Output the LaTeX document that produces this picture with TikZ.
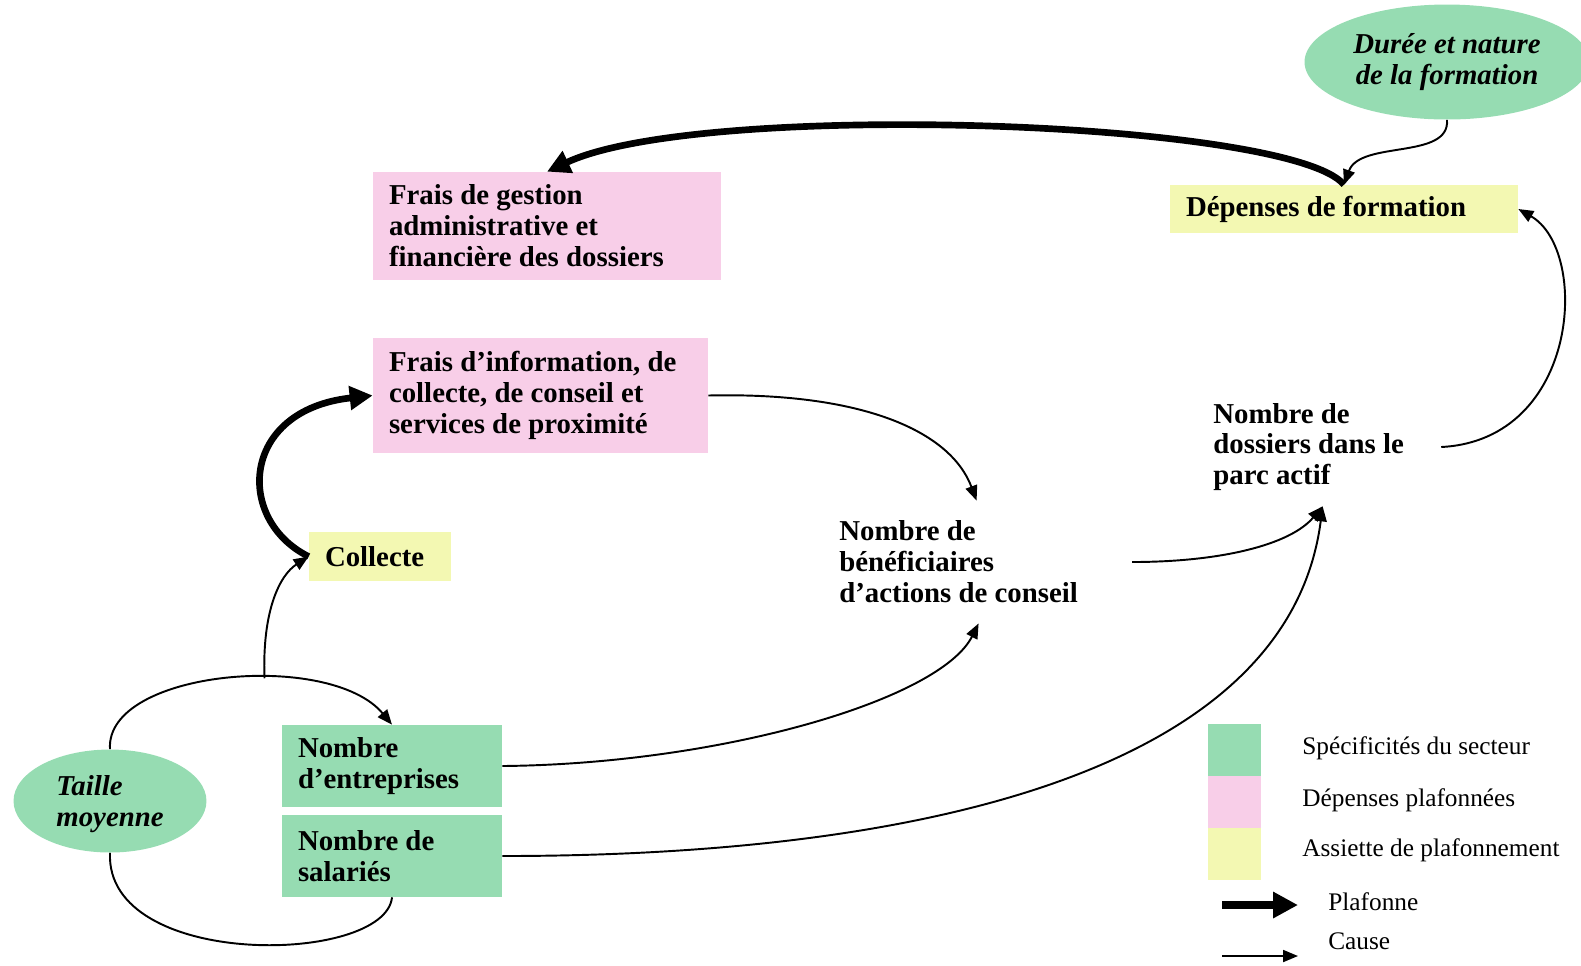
\documentclass[tikz,border=0pt]{standalone}
\usepackage{fontspec}
\setmainfont{Liberation Serif}
\definecolor{spgreen}{RGB}{150,220,178}
\definecolor{sppink}{RGB}{248,206,232}
\definecolor{spyellow}{RGB}{243,248,178}
\usetikzlibrary{arrows.meta,shapes.geometric}
\newcommand{\boxfont}{\fontsize{16.4pt}{17.6pt}\selectfont\bfseries}
\newcommand{\legfont}{\fontsize{14.4pt}{17pt}\selectfont}

\begin{document}
\begin{tikzpicture}[
  x=0.02cm, y=-0.02cm,
  every node/.style={font=\boxfont,align=flush left},
  box/.style={inner xsep=0.32cm,inner ysep=0pt},
  spec/.style={box,fill=spgreen},
  cost/.style={box,fill=sppink},
  base/.style={box,fill=spyellow},
  var/.style={inner sep=0pt},
  oval/.style={ellipse,fill=spgreen,font=\boxfont\itshape,inner sep=0pt},
  cause/.style={line width=1.1pt,-{Triangle[length=0.3cm,width=0.24cm]}},
  plafonne/.style={line width=3.8pt,-{Triangle[length=0.46cm,width=0.46cm]}},
  legend/.style={font=\legfont,anchor=west,inner sep=0pt},
  swatch/.style={minimum width=1.06cm,minimum height=1.04cm,inner sep=0pt}
]
\useasboundingbox (0,0) rectangle (1581,965);

\node[oval,minimum width=5.7cm,minimum height=2.3cm,align=center] (dur) at (1447,62) {Durée et nature\\de la formation};
\node[base,text width=6.32cm,minimum height=0.96cm] (dep) at (1344,209) {Dépenses de formation};
\node[cost,text width=6.32cm,minimum height=2.16cm] (gest) at (547,226) {Frais de gestion\\administrative et\\financière des dossiers};
\node[cost,text width=6.06cm,minimum height=2.3cm] (info) at (540.5,395.5) {Frais d’information, de\\collecte, de conseil et\\services de proximité};
\node[base,text width=2.2cm,minimum height=0.98cm] (col) at (380,556.5) {Collecte};
\node[var,anchor=west] (ben) at (839,562) {Nombre de\\bénéficiaires\\d’actions de conseil};
\node[var,anchor=west] (dos) at (1213,447) {Nombre de\\dossiers dans le\\parc actif};
\node[spec,text width=3.76cm,minimum height=1.64cm] (ent) at (392,766) {Nombre\\d’entreprises};
\node[spec,text width=3.76cm,minimum height=1.64cm] (sal) at (392,856) {Nombre de\\salariés};
\node[oval,minimum width=3.86cm,minimum height=2.06cm,text depth=-6pt] (tai) at (110,801) {Taille\\moyenne};

\draw[plafonne] (dep.north) .. controls (1290,120) and (700,100) .. (gest.north);
\draw[cause] (dur.south) .. controls (1450,160) and (1360,140) .. (dep.north);
\draw[cause] ([xshift=0.74cm]dos.east) .. controls (1580,440) and (1590,250) .. (dep.east);
\draw[plafonne] (col.west) .. controls (235,520) and (240,410) .. (info.west);
\draw[cause] (info.east) .. controls (860,392) and (950,430) .. ([xshift=0.36cm,yshift=0.4cm]ben.north);
\draw[cause] (ent.east) .. controls (720,764) and (940,700) .. ([xshift=0.4cm,yshift=-0.4cm]ben.south);
\draw[cause] ([xshift=1.08cm]ben.east) .. controls (1220,562) and (1290,545) .. ([xshift=0.28cm,yshift=-0.3cm]dos.south);
\draw[cause] (sal.east) .. controls (950,856) and (1290,760) .. ([xshift=0.28cm,yshift=-0.3cm]dos.south);
\draw[cause] (tai.north) .. controls (105,670) and (330,650) .. coordinate[pos=0.6] (fork) (ent.north);
\draw[cause] (fork) .. controls (262,610) and (280,575) .. (col.west);
\draw[line width=1.1pt] (tai.south) .. controls (105,970) and (385,965) .. (sal.south);

\node[swatch,fill=spgreen] (lg1) at (1234.5,750) {};
\node[swatch,fill=sppink] (lg2) at (1234.5,802) {};
\node[swatch,fill=spyellow] (lg3) at (1234.5,854) {};
\node[legend] (lt1) at (1302,748) {Spécificités du secteur};
\node[legend] (lt2) at (1302,800) {Dépenses plafonnées};
\node[legend] (lt3) at (1302,850) {Assiette de plafonnement};
\coordinate (pa) at (1222,905);
\coordinate (pb) at (1298,905);
\coordinate (ca) at (1222,956);
\coordinate (cb) at (1298,956);
\draw[plafonne,line width=5pt,-{Triangle[length=0.5cm,width=0.5cm]}] (pa) -- (pb);
\draw[cause] (ca) -- (cb);
\node[legend] (lt4) at (1328,902) {Plafonne};
\node[legend] (lt5) at (1328,941) {Cause};
\end{tikzpicture}
\end{document}
